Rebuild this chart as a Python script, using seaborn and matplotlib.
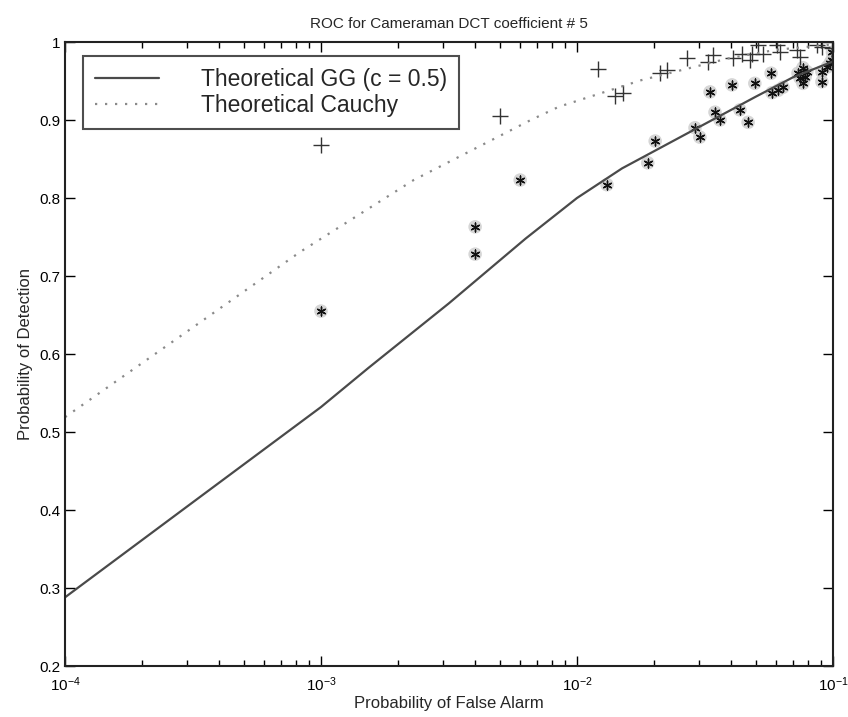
import numpy as np
import pandas as pd
import matplotlib
matplotlib.use('Agg')
import matplotlib.pyplot as plt
import seaborn as sns
from matplotlib.ticker import LogLocator, NullFormatter

# Theoretical ROC curves
gg_pfa = [1e-4, 3.16e-4, 1e-3, 1.53e-3, 3.16e-3, 6.3e-3, 1.0e-2, 1.5e-2, 2.0e-2, 3.16e-2, 5.0e-2, 7.0e-2, 1e-1]
gg_pd = [0.288, 0.410, 0.532, 0.582, 0.665, 0.748, 0.800, 0.838, 0.860, 0.895, 0.930, 0.955, 0.975]

cauchy_pfa = [1e-4, 2.8e-4, 8.3e-4, 2.3e-3, 6.6e-3, 8.5e-3, 1.78e-2, 3.9e-2, 6.0e-2, 1e-1]
cauchy_pd = [0.519, 0.622, 0.731, 0.823, 0.900, 0.917, 0.951, 0.979, 0.990, 0.997]

# Empirical points, Cauchy (+)
plus_pfa = [0.001, 0.005, 0.0121, 0.0141, 0.0151, 0.0211, 0.0225, 0.0270, 0.0325,
            0.0340, 0.0406, 0.0442, 0.0474, 0.0483, 0.0509, 0.0533, 0.0604, 0.0620,
            0.0723, 0.0743, 0.0865, 0.0905, 0.0990]
plus_pd = [0.868, 0.905, 0.965, 0.931, 0.935, 0.960, 0.964, 0.979, 0.974,
           0.983, 0.979, 0.985, 0.977, 0.985, 0.996, 0.985, 0.996, 0.987,
           0.990, 0.981, 0.996, 0.994, 0.992]

# Empirical points, GG (*)
star_pfa = [0.001, 0.004, 0.004, 0.006, 0.0131, 0.0189, 0.0202, 0.0289, 0.0302,
            0.0331, 0.0346, 0.0362, 0.0403, 0.0433, 0.0466, 0.0495, 0.0573, 0.0578,
            0.0610, 0.0638, 0.0730, 0.0763, 0.0743, 0.0778, 0.0763, 0.0790, 0.0905,
            0.0905, 0.0950, 0.0975, 0.0990, 0.0995]
star_pd = [0.655, 0.763, 0.728, 0.823, 0.817, 0.845, 0.873, 0.890, 0.878,
           0.936, 0.910, 0.900, 0.945, 0.913, 0.897, 0.947, 0.960, 0.935,
           0.938, 0.942, 0.960, 0.967, 0.954, 0.955, 0.947, 0.962, 0.962,
           0.949, 0.968, 0.973, 0.977, 0.987]

ytick_vals = [0.2, 0.3, 0.4, 0.5, 0.6, 0.7, 0.8, 0.9, 1.0]
ytick_labels = ['0.2', '0.3', '0.4', '0.5', '0.6', '0.7', '0.8', '0.9', '1']

sns.set_style('ticks')
plt.rcParams['font.family'] = ['Liberation Sans', 'DejaVu Sans']
plt.rcParams['mathtext.default'] = 'regular'

fig = plt.figure(figsize=(8.48, 7.17), dpi=100)
ax = fig.add_axes([65 / 848, 51 / 717, 768 / 848, 624 / 717])

df_gg = pd.DataFrame({'pfa': gg_pfa, 'pd': gg_pd})
df_cauchy = pd.DataFrame({'pfa': cauchy_pfa, 'pd': cauchy_pd})
df_plus = pd.DataFrame({'pfa': plus_pfa, 'pd': plus_pd})
df_star = pd.DataFrame({'pfa': star_pfa, 'pd': star_pd})

sns.lineplot(data=df_gg, x='pfa', y='pd', ax=ax, color='#4a4a4a', lw=1.6,
             label='Theoretical GG (c = 0.5)')
sns.lineplot(data=df_cauchy, x='pfa', y='pd', ax=ax, color='#8a8a8a', lw=1.6,
             linestyle=(0, (1, 3.5)), label='Theoretical Cauchy')

# soft halo behind the asterisks
sns.scatterplot(data=df_star, x='pfa', y='pd', ax=ax, marker='o', s=95,
                color='#cccccc', edgecolor='none', alpha=0.8, legend=False)
sns.scatterplot(data=df_star, x='pfa', y='pd', ax=ax, marker=(6, 2, 0), s=40,
                color='#111111', linewidth=1.0, legend=False)
sns.scatterplot(data=df_plus, x='pfa', y='pd', ax=ax, marker='+', s=130,
                color='#333333', linewidth=1.0, legend=False)

ax.set_xscale('log')
ax.set_xlim(1e-4, 1e-1)
ax.set_ylim(0.2, 1.0)
ax.set_yticks(ytick_vals)
ax.set_yticklabels(ytick_labels)
ax.xaxis.set_minor_locator(LogLocator(base=10, subs=np.arange(2, 10)))
ax.xaxis.set_minor_formatter(NullFormatter())

ax.tick_params(axis='both', which='both', direction='in', top=True, right=True,
               labelsize=11, colors='black')
ax.tick_params(axis='both', which='major', length=7, width=1)
ax.tick_params(axis='both', which='minor', length=4, width=1)
ax.tick_params(axis='x', which='major', pad=7)
for sp in ax.spines.values():
    sp.set_visible(True)
    sp.set_color('#222222')
    sp.set_linewidth(1.5)

ax.set_title('ROC for Cameraman DCT coefficient # 5', fontsize=11, pad=10)
ax.set_xlabel('Probability of False Alarm', fontsize=12, labelpad=1)
ax.set_ylabel('Probability of Detection', fontsize=12, labelpad=4)

leg = ax.legend(loc='upper left', bbox_to_anchor=(0.023, 0.978), borderaxespad=0,
                fontsize=16.5, frameon=True, fancybox=False, edgecolor='#222222',
                handlelength=2.8, handletextpad=1.8, labelspacing=0.1,
                borderpad=0.55)
leg.get_frame().set_linewidth(1.5)

plt.savefig('out.png', dpi=100)
